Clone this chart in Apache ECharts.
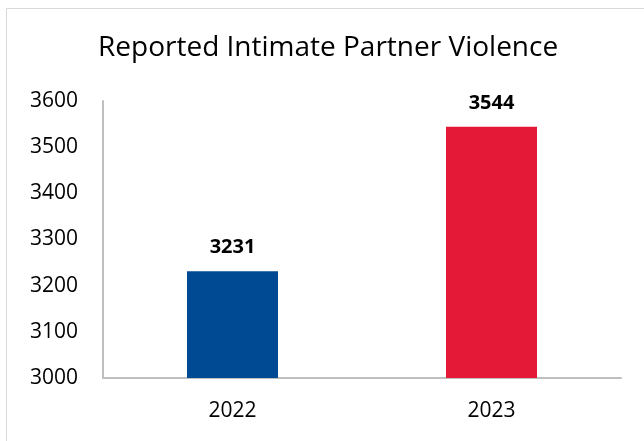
<!DOCTYPE html>
<html><head><meta charset="utf-8">
<script src="https://cdn.jsdelivr.net/npm/echarts@6/dist/echarts.min.js"></script>
<style>html,body{margin:0;padding:0;background:#fff}#c{width:644px;height:441px}</style>
</head><body><div id="c"></div>
<script>
var title = "Reported Intimate Partner Violence";
var categories = ["2022", "2023"];
var values = [3231, 3544];
var barColors = ["#004A93", "#E31937"];
var yMin = 3000, yMax = 3600, yStep = 100;
var font = "'Open Sans', 'Noto Sans', sans-serif";
var chart = echarts.init(document.getElementById('c'), null, {renderer: 'canvas'});
chart.setOption({
  animation: false,
  backgroundColor: '#fff',
  graphic: [{type: 'rect', shape: {x: 6.5, y: 8.5, width: 700, height: 500}, style: {fill: 'none', stroke: '#d9d9d9', lineWidth: 1}, silent: true}],
  title: {text: title, left: 93, top: 29, textStyle: {fontFamily: font, fontWeight: 'normal', fontSize: 28, color: '#000'}},
  grid: {left: 103, right: 23, top: 101, bottom: 63, containLabel: false},
  xAxis: {type: 'category', data: categories,
    axisLine: {lineStyle: {color: '#bfbfbf', width: 2}}, axisTick: {show: false},
    axisLabel: {fontFamily: font, fontSize: 21, color: '#000', margin: 23}},
  yAxis: {type: 'value', min: yMin, max: yMax, interval: yStep,
    axisLine: {show: true, lineStyle: {color: '#bfbfbf', width: 2}}, axisTick: {show: false}, splitLine: {show: false},
    axisLabel: {fontFamily: font, fontSize: 21, color: '#000', margin: 25, formatter: function(v){ return String(v); }}},
  series: [{type: 'bar', barWidth: 91,
    data: values.map(function(v, i){ return {value: v, itemStyle: {color: barColors[i]}}; }),
    label: {show: true, position: 'top', distance: 14, fontFamily: font, fontWeight: 'bold', fontSize: 20, color: '#000'}}]
});
</script></body></html>
